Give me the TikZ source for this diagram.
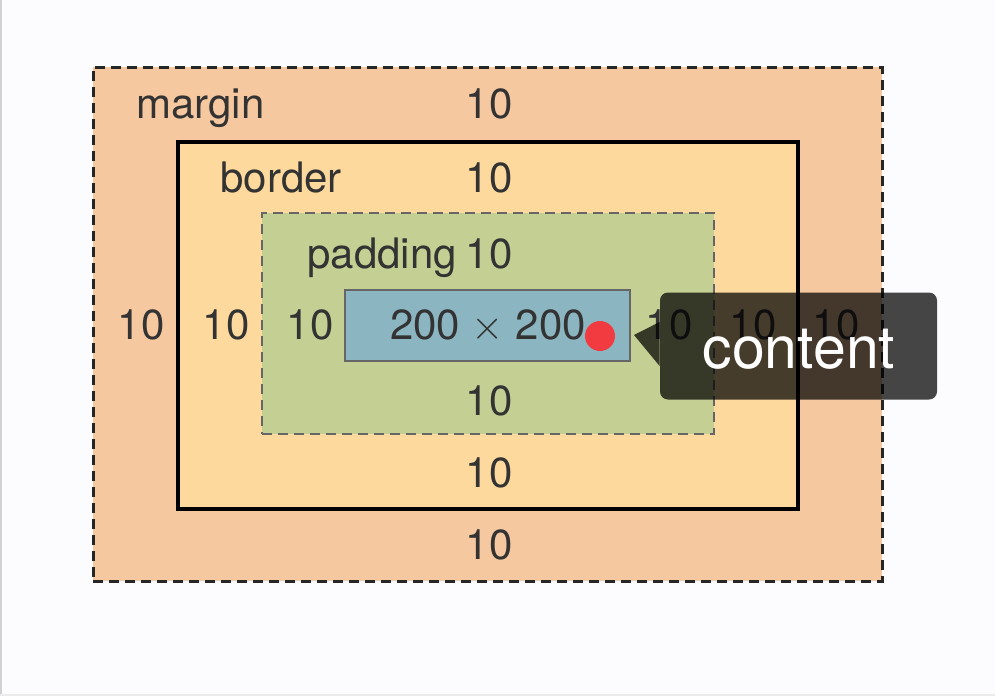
\documentclass[tikz,border=0pt]{standalone}
\usepackage{fontspec}
\setmainfont{TeX Gyre Heros}
\usepackage{tikz}
\usetikzlibrary{positioning}

\definecolor{pagebg}{HTML}{FCFBFD}
\definecolor{marginfill}{HTML}{F5C89F}
\definecolor{borderfill}{HTML}{FDD99D}
\definecolor{paddingfill}{HTML}{C3CF93}
\definecolor{contentfill}{HTML}{8BB6C1}
\definecolor{labeltext}{HTML}{333333}
\definecolor{dotred}{HTML}{F23B40}

\tikzset{
  box/.style={rectangle, inner sep=0pt, outer sep=0pt},
  marginbox/.style={box, fill=marginfill, draw=black!85, line width=1.5pt, dash pattern=on 5pt off 3pt},
  borderbox/.style={box, fill=borderfill, draw=black, line width=1.7pt},
  paddingbox/.style={box, fill=paddingfill, draw=black!60, line width=1.4pt, dash pattern=on 5pt off 3pt},
  contentbox/.style={box, fill=contentfill, draw=black!60, line width=1pt},
  lbl/.style={inner sep=0pt, anchor=base, text=labeltext, font=\fontsize{21}{24}\selectfont},
  tip/.style={fill=black, fill opacity=0.72, rounded corners=4pt, inner sep=0pt}
}

\begin{document}
\begin{tikzpicture}[x=0.5pt,y=-0.5pt]
  \useasboundingbox[fill=pagebg] (0,0) rectangle (995,696);
  \draw[black!18, line width=0.6pt] (1,0) -- (1,696); \draw[black!8, line width=0.6pt] (0,695) -- (995,695);
  % boxes, outside in
  \node[marginbox, minimum width=394.5pt, minimum height=257pt] (margin) at (487.5,324) {};
  \node[borderbox, minimum width=310pt, minimum height=183.5pt] (border) at (488,325.5) {};
  \node[paddingbox, minimum width=226pt, minimum height=110.5pt] (padding) at (488,323.5) {};
  \node[contentbox, minimum width=142.5pt, minimum height=35.5pt] (content) at (487.5,325.5) {};
  % names and sizes
  \node[lbl, anchor=base west] (mname) at (136,118) {margin}; \node[lbl] (mtop) at (489,118) {10};
  \node[lbl, anchor=base west] (bname) at (220,192) {border}; \node[lbl] (btop) at (489,192) {10};
  \node[lbl, anchor=base west] (pname) at (307,268) {padding}; \node[lbl] (ptop) at (489,268) {10};
  \node[lbl] (mleft) at (141,339) {10}; \node[lbl] (bleft) at (226,339) {10}; \node[lbl] (pleft) at (310,339) {10};
  \node[lbl] (pright) at (669,339) {10}; \node[lbl] (bright) at (753,339) {10}; \node[lbl] (mright) at (836,339) {10};
  \node[lbl] (size) at (488,339) {200 $\times$ 200};
  \node[lbl] (pbot) at (489,415) {10}; \node[lbl] (bbot) at (489,487) {10}; \node[lbl] (mbot) at (489,559) {10};
  % cursor and tooltip
  \node[circle, fill=dotred, inner sep=0pt, minimum size=15pt] (dot) at (600,336) {};
  \node[tip, minimum width=138.5pt, minimum height=53.5pt] (tooltip) at (798.5,346) {};
  \fill[black, fill opacity=0.72] (tooltip.west) ++(0,-24) -- (634,335) -- ([yshift=-10pt]tooltip.west) -- cycle;
  \node[anchor=base, text=white, inner sep=0pt, font=\fontsize{29.5}{32}\selectfont] (tiptext) at (799,368) {content};
\end{tikzpicture}
\end{document}
